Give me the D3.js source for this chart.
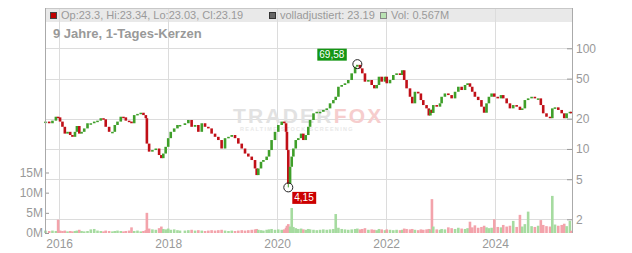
<!DOCTYPE html>
<html lang="de">
<head>
<meta charset="UTF-8">
<title>9 Jahre, 1-Tages-Kerzen</title>
<script src="https://d3js.org/d3.v7.min.js"></script>
<style>
  body { margin: 0; background: #fff; }
  svg { font-family: Arial, "Liberation Sans", sans-serif; display: block; }
  .axis text { fill: #999; font-size: 12px; }
  .axis line { stroke: #999; }
</style>
</head>
<body>
<svg id="chart" width="632" height="253"></svg>
<script>
const dates = [
  "2015-10-01","2015-10-26","2015-11-17","2015-12-10","2015-12-25","2016-01-07","2016-01-23","2016-02-08","2016-02-26","2016-03-15",
  "2016-03-30","2016-04-16","2016-04-29","2016-05-15","2016-05-30","2016-06-17","2016-07-09","2016-07-31","2016-08-23","2016-09-14",
  "2016-10-06","2016-10-24","2016-11-08","2016-12-01","2016-12-23","2017-01-08","2017-01-26","2017-02-17","2017-03-07","2017-03-23",
  "2017-04-14","2017-04-30","2017-05-18","2017-06-09","2017-07-01","2017-07-19","2017-08-04","2017-08-11","2017-08-26","2017-09-17",
  "2017-10-10","2017-11-01","2017-11-16","2017-11-29","2017-12-15","2018-01-01","2018-01-18","2018-02-10","2018-03-04","2018-03-21",
  "2018-04-23","2018-05-16","2018-06-07","2018-06-30","2018-07-22","2018-08-14","2018-09-05","2018-09-27","2018-10-19","2018-11-11",
  "2018-12-03","2018-12-25","2019-01-17","2019-02-09","2019-03-03","2019-03-25","2019-04-16","2019-05-09","2019-05-31","2019-06-22",
  "2019-07-15","2019-08-06","2019-08-17","2019-08-28","2019-09-15","2019-10-01","2019-10-23","2019-11-08","2019-11-25","2019-12-18",
  "2020-01-09","2020-02-01","2020-02-18","2020-03-01","2020-03-07","2020-03-16","2020-03-28","2020-04-08","2020-04-19","2020-05-05",
  "2020-05-22","2020-06-10","2020-06-25","2020-07-11","2020-07-28","2020-08-09","2020-09-01","2020-09-23","2020-10-15","2020-11-06",
  "2020-11-29","2020-12-21","2021-01-12","2021-01-28","2021-02-15","2021-03-09","2021-03-31","2021-04-22","2021-05-15","2021-06-07",
  "2021-06-22","2021-07-10","2021-07-25","2021-08-12","2021-09-04","2021-09-26","2021-10-14","2021-10-30","2021-11-14","2021-12-02",
  "2021-12-24","2022-01-05","2022-01-27","2022-02-18","2022-03-12","2022-04-04","2022-04-19","2022-05-02","2022-05-18","2022-06-10",
  "2022-06-25","2022-07-13","2022-08-04","2022-08-22","2022-09-07","2022-09-29","2022-10-14","2022-10-25","2022-11-04","2022-11-13",
  "2022-12-06","2022-12-28","2023-01-08","2023-01-30","2023-02-22","2023-03-16","2023-04-08","2023-04-30","2023-05-22","2023-06-14",
  "2023-07-01","2023-07-17","2023-08-01","2023-08-19","2023-09-10","2023-10-02","2023-10-20","2023-11-05","2023-11-21","2023-12-09",
  "2023-12-27","2024-01-19","2024-02-10","2024-02-25","2024-03-19","2024-04-10","2024-05-02","2024-05-25","2024-06-16","2024-07-01",
  "2024-07-19","2024-08-10","2024-09-02","2024-09-24","2024-10-16","2024-11-03","2024-11-19","2024-12-11","2025-01-04","2025-01-19",
  "2025-02-06","2025-02-28","2025-03-23","2025-04-09","2025-04-25","2025-05-17","2025-05-26"
];
const closes = [
  18.7, 18.0, 19.1, 20.9, 20.6, 18.7, 16.6, 14.2, 14.8, 13.75,
  13.2, 14.8, 16.9, 14.2, 14.8, 16.0, 18.0, 18.0, 18.7, 19.1,
  20.2, 19.7, 16.6, 14.8, 14.8, 17.3, 18.7, 20.9, 20.6, 19.1,
  18.7, 18.0, 21.7, 22.3, 22.9, 21.7, 20.2, 11.3, 9.4, 9.75,
  10.1, 8.7, 8.1, 9.0, 10.5, 12.8, 14.8, 16.0, 17.3, 17.3,
  18.0, 19.4, 16.6, 17.3, 14.8, 18.0, 16.6, 16.0, 14.2, 13.2,
  12.26, 10.1, 12.8, 13.2, 13.75, 12.8, 11.3, 10.1, 9.0, 8.4,
  7.76, 6.4, 5.5, 6.4, 7.45, 7.76, 8.4, 9.75, 12.26, 14.8,
  17.3, 18.7, 18.0, 14.8, 9.75, 4.5, 6.65, 8.4, 10.1, 12.26,
  12.8, 14.2, 12.26, 13.75, 16.6, 19.4, 22.6, 23.4, 23.4, 24.4,
  25.3, 28.4, 30.6, 33.0, 41.5, 43.2, 44.9, 48.4, 56.4, 65.6,
  68.5, 63.2, 56.4, 46.6, 48.4, 43.2, 40.0, 43.2, 52.2, 46.6,
  52.2, 44.9, 48.4, 54.3, 56.4, 54.3, 60.5, 48.4, 40.0, 33.0,
  28.4, 37.0, 35.6, 30.6, 27.3, 25.3, 21.5, 24.5, 22.8, 27.3,
  26.3, 28.4, 33.0, 35.6, 34.3, 31.8, 37.0, 41.5, 38.5, 43.2,
  44.9, 41.5, 37.0, 33.0, 30.6, 26.3, 22.9, 28.4, 33.0, 35.6,
  33.0, 31.8, 34.3, 31.8, 28.4, 25.3, 27.3, 26.3, 24.4, 25.3,
  30.6, 31.8, 33.0, 31.8, 31.8, 27.3, 22.6, 20.9, 20.2, 25.3,
  25.9, 24.4, 22.6, 20.2, 22.6, 23.4, 23.19
];
const volumes = [
  0.6, 0.5, 0.6, 0.5, 3.3, 0.6, 0.5, 0.6, 0.4, 0.5,
  0.4, 0.5, 0.6, 0.8, 0.5, 0.4, 0.5, 0.9, 1.0, 0.6,
  0.5, 0.4, 0.6, 0.5, 0.4, 0.5, 0.6, 0.5, 0.4, 0.5,
  0.6, 1.4, 0.5, 0.6, 0.4, 0.5, 0.7, 5.0, 1.1, 0.9,
  0.8, 1.2, 1.6, 1.0, 0.9, 1.1, 0.8, 0.9, 0.7, 0.6,
  0.6, 0.7, 0.8, 0.6, 0.7, 0.6, 0.5, 0.6, 0.7, 0.6,
  0.7, 0.8, 0.6, 0.5, 0.6, 0.5, 0.6, 0.7, 0.6, 0.7,
  0.8, 0.9, 1.0, 0.8, 0.7, 0.6, 0.8, 0.9, 1.0, 0.8,
  0.9, 0.8, 0.9, 1.3, 1.8, 2.2, 1.6, 6.2, 1.5, 1.2,
  1.0, 1.1, 0.9, 0.8, 1.0, 0.9, 0.8, 0.7, 0.8, 0.9,
  0.8, 0.9, 1.0, 4.7, 1.3, 1.0, 0.9, 0.8, 0.9, 1.0,
  1.1, 0.9, 1.0, 1.2, 0.8, 0.9, 0.8, 0.7, 1.0, 0.9,
  0.7, 0.9, 0.8, 0.7, 0.8, 0.7, 0.8, 1.1, 1.0, 0.9,
  1.0, 0.8, 0.7, 0.9, 0.8, 0.9, 1.0, 0.9, 8.4, 1.6,
  0.9, 0.8, 1.0, 0.9, 1.4, 1.2, 1.0, 1.3, 1.1, 1.0,
  1.2, 2.8, 1.4, 1.9, 1.3, 1.5, 1.8, 1.4, 1.2, 1.3,
  3.4, 1.5, 1.4, 2.0, 1.6, 1.8, 3.0, 1.5, 4.5, 1.6,
  2.2, 5.3, 1.7, 1.5, 1.8, 3.2, 2.0, 1.7, 1.6, 9.2,
  2.1, 1.8, 2.0, 2.3, 1.7, 3.0, 0.567
];

const priceTicks = [2, 5, 10, 20, 50, 100];
const volumeTicks = [0, 5, 10, 15];
const yearTicks = [2016, 2018, 2020, 2022, 2024];
const legendLabels = ["Op:23.3, Hi:23.34, Lo:23.03, Cl:23.19", "volladjustiert: 23.19", "Vol: 0.567M"];
const title = "9 Jahre, 1-Tages-Kerzen";
const highMark = { date: "2021-06-22", value: 69.58, label: "69,58" };
const lowMark = { date: "2020-03-16", value: 4.15, label: "4,15" };

const pLeft = 45, pRight = 572, pTop = 8, pBottom = 233;
const barW = 2.6;
const parse = d3.timeParse("%Y-%m-%d");

const svg = d3.select("#chart");

const x = d3.scaleTime()
    .domain([parse("2015-09-28"), parse("2025-05-31")])
    .range([pLeft, pRight]);
const y = d3.scaleLog().domain([2, 100]).range([219.3, 48.3]);
const yVol = d3.scaleLinear().domain([0, 15]).range([pBottom, 172.5]);

const candles = dates.map((d, i) => ({
    date: parse(d),
    open: i ? closes[i - 1] : closes[i],
    close: closes[i],
    vol: volumes[i]
}));

// Legendenband oben
svg.append("rect")
    .attr("x", pLeft).attr("y", pTop)
    .attr("width", pRight - pLeft).attr("height", 14)
    .attr("fill", "#e9e9e9");

// Gitter
const grid = svg.append("g").attr("stroke", "#dcdcdc").attr("shape-rendering", "crispEdges");
grid.selectAll(".h").data(priceTicks).enter().append("line")
    .attr("x1", pLeft).attr("x2", pRight)
    .attr("y1", d => Math.round(y(d)) + 0.5).attr("y2", d => Math.round(y(d)) + 0.5);
grid.selectAll(".v").data(yearTicks).enter().append("line")
    .attr("x1", d => Math.round(x(new Date(d, 0, 1))) + 0.5)
    .attr("x2", d => Math.round(x(new Date(d, 0, 1))) + 0.5)
    .attr("y1", pTop).attr("y2", pBottom);

svg.append("line")
    .attr("x1", pLeft).attr("x2", pRight).attr("y1", pTop + 0.5).attr("y2", pTop + 0.5)
    .attr("stroke", "#c8c8c8");

// Legende
const squares = [
    { fill: "#c00000", stroke: "#444", x: 50 },
    { fill: "#666", stroke: "#333", x: 269 },
    { fill: "#b9e2b2", stroke: "#888", x: 380 }
];
legendLabels.forEach((label, i) => {
    svg.append("rect")
        .attr("x", squares[i].x + 0.5).attr("y", 12.5)
        .attr("width", 6).attr("height", 6)
        .attr("fill", squares[i].fill).attr("stroke", squares[i].stroke);
    svg.append("text")
        .attr("x", squares[i].x + 11).attr("y", 19)
        .attr("font-size", 11).attr("fill", "#9a9a9a")
        .text(label);
});

svg.append("text")
    .attr("x", 53).attr("y", 38)
    .attr("font-size", 13).attr("font-weight", "bold").attr("fill", "#999")
    .text(title);

// Wasserzeichen
const wm = svg.append("text")
    .attr("x", 233).attr("y", 123)
    .attr("font-size", 21).attr("font-weight", "bold")
    .attr("letter-spacing", 2.2);
wm.append("tspan").attr("fill", "#e2e2e2").text("TRADER");
wm.append("tspan").attr("fill", "#f6cdcd").text("FOX");
svg.append("text")
    .attr("x", 240).attr("y", 131)
    .attr("font-size", 5.5).attr("font-weight", "bold")
    .attr("letter-spacing", 1.3).attr("fill", "#e8e8e8")
    .text("REALTIME STOCK SCREENING");

// Volumen
svg.append("g").selectAll("rect").data(candles).enter().append("rect")
    .attr("x", d => x(d.date) - barW / 2)
    .attr("width", barW)
    .attr("y", d => yVol(d.vol))
    .attr("height", d => pBottom - yVol(d.vol))
    .attr("fill", d => d.close >= d.open ? "#a6dba0" : "#f3a3ab");

// Kerzen
const lowX = x(parse(lowMark.date));
svg.append("line")
    .attr("x1", lowX).attr("x2", lowX)
    .attr("y1", y(closes[dates.indexOf(lowMark.date)])).attr("y2", y(lowMark.value))
    .attr("stroke", "#3f9f2a");

svg.append("g").selectAll("rect").data(candles).enter().append("rect")
    .attr("x", d => x(d.date) - barW / 2)
    .attr("width", barW)
    .attr("y", d => y(Math.max(d.open, d.close)))
    .attr("height", d => Math.max(1.5, Math.abs(y(d.open) - y(d.close))))
    .attr("fill", d => d.close >= d.open ? "#3f9f2a" : "#c01018");

// Achsen
const rightAxis = svg.append("g").attr("class", "axis")
    .attr("transform", `translate(${pRight},0)`)
    .call(d3.axisRight(y).tickValues(priceTicks).tickSize(-5).tickPadding(4).tickFormat(d => d));
rightAxis.select(".domain").remove();

const leftAxis = svg.append("g").attr("class", "axis")
    .attr("transform", `translate(${pLeft},0)`)
    .call(d3.axisLeft(yVol).tickValues(volumeTicks).tickSize(-4).tickPadding(2).tickFormat(d => d + "M"));
leftAxis.select(".domain").remove();

const bottomAxis = svg.append("g").attr("class", "axis")
    .attr("transform", `translate(0,${pBottom})`)
    .call(d3.axisBottom(x).tickValues(yearTicks.map(d => new Date(d, 0, 1)))
        .tickSize(0).tickPadding(6).tickFormat(d3.timeFormat("%Y")));
bottomAxis.select(".domain").remove();

[pLeft, pRight].forEach(px => {
    svg.append("line")
        .attr("x1", px + 0.5).attr("x2", px + 0.5)
        .attr("y1", pTop).attr("y2", pBottom)
        .attr("stroke", "#aaa");
});

// Hoch / Tief Markierungen
function mark(m, color, dx, dy, anchor) {
    const px = x(parse(m.date)), py = y(m.value);
    svg.append("circle")
        .attr("cx", px).attr("cy", py).attr("r", 4.5)
        .attr("fill", "none").attr("stroke", "#222");
    const t = svg.append("text")
        .attr("x", px + dx).attr("y", py + dy)
        .attr("text-anchor", anchor)
        .attr("font-size", 10).attr("fill", "#fff")
        .text(m.label);
    const b = t.node().getBBox();
    svg.insert("rect", () => t.node())
        .attr("x", b.x - 2).attr("y", b.y - 0.5)
        .attr("width", b.width + 4).attr("height", b.height + 1)
        .attr("fill", color);
}
mark(highMark, "#149614", -13, -6, "end");
mark(lowMark, "#cc0000", 6, 14, "start");
</script>
</body>
</html>
